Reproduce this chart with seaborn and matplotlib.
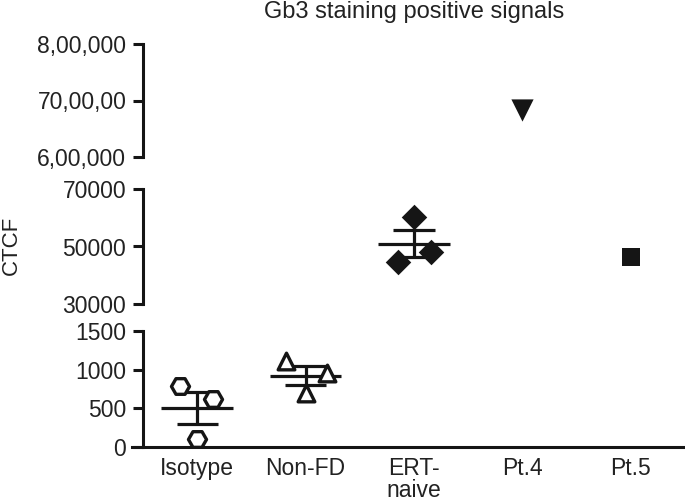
"""Gb3 staining positive signals - broken-axis scatter with mean +/- SEM."""

import matplotlib
matplotlib.use("Agg")
import matplotlib.pyplot as plt
import seaborn as sns
import numpy as np
import pandas as pd

# ---- data ----
groups = ["Isotype", "Non-FD", "ERT-\nnaive", "Pt.4", "Pt.5"]
isotype = [792, 623, 100]
non_fd = [1110, 962, 701]
ert_naive = [60260, 44600, 48090]
pt4 = [683000]
pt5 = [46350]

top_ticks = [600000, 700000, 800000]
top_ticklabels = ["6,00,000", "70,00,00", "8,00,000"]
mid_ticks = [30000, 50000, 70000]
low_ticks = [0, 500, 1000, 1500]

# ---- layout / style ----
values = [isotype, non_fd, ert_naive, pt4, pt5]
dodge = [[-0.16, 0.15, 0.0], [-0.18, 0.2, 0.0], [0.0, -0.15, 0.16], [0.0], [0.0]]
markers = ["H", "^", "D", "v", "s"]
sizes = [13, 12, 13, 16, 13.5]
open_marker = [True, True, False, False, False]
ink = "#151515"

rows = []
for i, (g, vals) in enumerate(zip(groups, values)):
    for v, d in zip(vals, dodge[i]):
        rows.append({"group": g, "idx": i, "x": i + d, "value": v})
df = pd.DataFrame(rows)

sns.set_style("white")
plt.rcParams["font.family"] = ["Liberation Sans", "DejaVu Sans"]
plt.rcParams["font.size"] = 16

fig = plt.figure(figsize=(6.85, 5.03), dpi=100)
H = 503.0
left = 143 / 685.0
# (top px, bottom px, ylim, ticks, labels)
panels = [
    (44, 157, (600000, 800000), top_ticks, top_ticklabels),
    (189, 304, (30000, 70000), mid_ticks, [str(t) for t in mid_ticks]),
    (331, 447, (0, 1500), low_ticks, [str(t) for t in low_ticks]),
]

for p, (ytop, ybot, ylim, ticks, labels) in enumerate(panels):
    ax = fig.add_axes([left, 1 - ybot / H, 1 - left, (ybot - ytop) / H])
    ax.set_facecolor("none")

    # mean and SEM
    for i, vals in enumerate(values):
        if len(vals) < 2:
            continue
        m = np.mean(vals)
        sem = np.std(vals, ddof=1) / np.sqrt(len(vals))
        ax.hlines(m, i - 0.33, i + 0.33, color=ink, lw=2.3, zorder=2)
        ax.hlines([m - sem, m + sem], i - 0.19, i + 0.19, color=ink, lw=2.3, zorder=2)
        ax.vlines(i, m - sem, m + sem, color=ink, lw=2.3, zorder=2)

    for i, g in enumerate(groups):
        sub = df[df["group"] == g]
        sns.scatterplot(data=sub, x="x", y="value", ax=ax, marker=markers[i],
                        s=sizes[i] ** 2, color=ink,
                        facecolor="white" if open_marker[i] else ink,
                        edgecolor=ink, linewidth=2.4 if open_marker[i] else 0,
                        legend=False, zorder=3)

    ax.set_xlim(-0.5, 4.5)
    ax.set_ylim(*ylim)
    ax.set_yticks(ticks)
    ax.set_yticklabels(labels)
    ax.set_yticks(list(ylim), minor=True)
    ax.set_xlabel("")
    ax.set_ylabel("")
    ax.tick_params(axis="y", which="major", left=True, direction="out", length=7,
                   width=2.2, color=ink, pad=5, labelsize=16.5, labelcolor="#222")
    ax.tick_params(axis="y", which="minor", left=True, direction="in", length=3.5,
                   width=2.2, color=ink)
    for s in ["top", "right"]:
        ax.spines[s].set_visible(False)
    ax.spines["left"].set_linewidth(2.2)
    ax.spines["left"].set_color(ink)
    if p < 2:
        ax.spines["bottom"].set_visible(False)
        ax.set_xticks([])
    else:
        ax.spines["bottom"].set_linewidth(2.2)
        ax.spines["bottom"].set_color(ink)
        ax.spines["bottom"].set_bounds(-0.6, 4.5)
        ax.set_xticks(range(len(groups)))
        ax.set_xticklabels(groups, color="#222")
        ax.tick_params(axis="x", length=0, pad=7, labelsize=16.5)
        for lab in ax.get_xticklabels():
            lab.set_linespacing(0.95)

fig.text((left + 1) / 2, 1 - 12 / H, "Gb3 staining positive signals",
         ha="center", va="center", fontsize=17, color="#222")
fig.text(11 / 685, 1 - 245 / H, "CTCF", rotation=90, ha="center",
         va="center", fontsize=16, color="#222")

fig.savefig("out.png", dpi=100)
